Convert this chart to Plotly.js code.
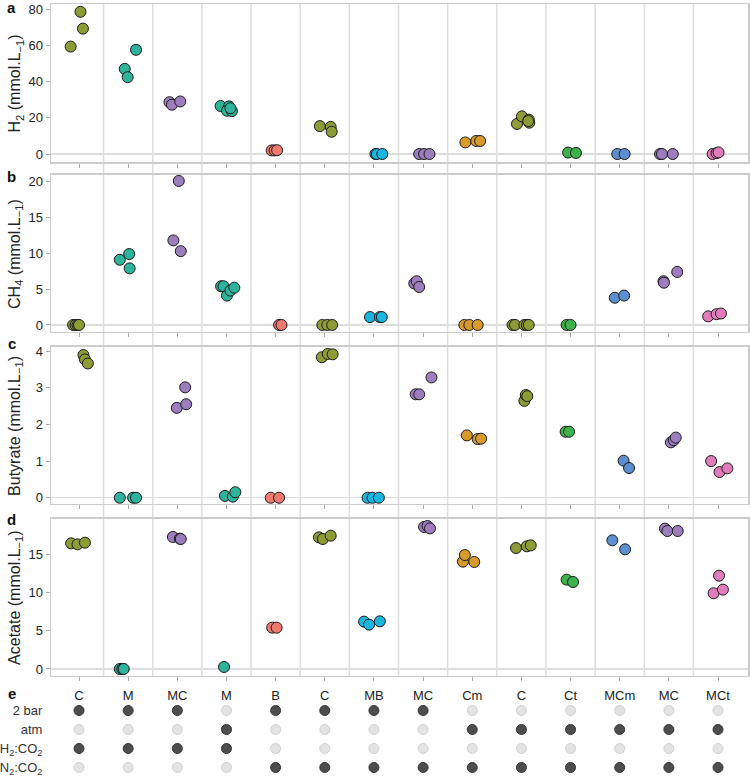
<!DOCTYPE html>
<html>
<head>
<meta charset="utf-8">
<script src="https://cdn.plot.ly/plotly-3.0.1.min.js"></script>
<style>
  body { margin: 0; background: #fff; }
  #plot { width: 750px; height: 777px; }
</style>
</head>
<body>
<div id="plot"></div>
<script>
// treatment categories and their colours
var categories = ['C', 'M', 'MC', 'M', 'B', 'C', 'MB', 'MC', 'Cm', 'C', 'Ct', 'MCm', 'MC', 'MCt'];
var catColors = ['#8d9c37', '#2db49a', '#9c7dbe', '#2db49a', '#ee7a70', '#8d9c37', '#1bb6e0',
                 '#9c7dbe', '#d89a2c', '#8d9c37', '#3db14c', '#5d8ed0', '#9c7dbe', '#e07cba'];

// a: H2 (replicates per category) and horizontal jitter of each replicate
var h2Values = [[59.3, 78.5, 69.2], [47.0, 42.4, 57.5], [28.6, 27.2, 29.0], [26.5, 26.3, 23.9, 23.7, 25.3],
                [2.0, 2.0, 2.1], [15.4, 15.0, 12.3], [0, 0, 0], [0, 0, 0], [6.4, 7.2, 7.2],
                [16.6, 20.8, 19.0, 17.3, 18.2], [0.8, 0.6], [0, 0], [0, 0, 0], [0, 0.5, 0.9]];
var h2Jitter = [[-0.17, 0.03, 0.08], [-0.07, -0.01, 0.16], [-0.16, -0.11, 0.06], [-0.12, 0.05, 0.01, 0.11, 0.08],
                [-0.08, -0.02, 0.03], [-0.1, 0.12, 0.14], [0.03, 0.06, 0.17], [-0.08, 0.02, 0.13], [-0.14, 0.08, 0.16],
                [-0.09, 0.01, 0.15, 0.16, 0.14], [-0.05, 0.11], [-0.05, 0.1], [-0.18, -0.14, 0.08], [-0.11, -0.03, 0.01]];

// b: CH4
var ch4Values = [[0, 0, 0, 0], [9.1, 9.9, 7.9], [11.8, 20.1, 10.3], [5.4, 5.4, 4.1, 4.8, 5.2],
                 [0, 0], [0, 0, 0], [1.1, 1.1, 1.1], [5.8, 6.1, 5.3], [0, 0, 0],
                 [0, 0, 0, 0, 0], [0, 0], [3.8, 4.1], [6.1, 5.9, 7.4], [1.2, 1.5, 1.6]];
var ch4Jitter = [[-0.12, -0.07, -0.03, 0.0], [-0.17, 0.02, 0.03], [-0.08, 0.03, 0.07], [-0.11, -0.06, 0.01, 0.08, 0.16],
                 [0.07, 0.12], [-0.05, 0.05, 0.15], [-0.08, 0.12, 0.16], [-0.18, -0.13, -0.08], [-0.16, -0.06, 0.11],
                 [-0.18, -0.13, 0.06, 0.11, 0.15], [-0.08, 0.0], [-0.1, 0.09], [-0.11, -0.1, 0.17], [-0.2, -0.03, 0.06]];

// c: Butyrate
var butValues = [[3.89, 3.77, 3.66], [0, 0, 0], [2.45, 3.01, 2.55], [0.05, 0.03, 0.15],
                 [0, 0], [3.83, 3.92, 3.91], [0, 0, 0], [2.82, 2.82, 3.28], [1.70, 1.60, 1.61],
                 [2.64, 2.80, 2.77], [1.8, 1.8], [1.01, 0.81], [1.51, 1.57, 1.64], [1.0, 0.70, 0.80]];
var butJitter = [[0.09, 0.12, 0.18], [-0.17, 0.1, 0.16], [-0.01, 0.16, 0.18], [-0.03, 0.13, 0.18],
                 [-0.1, 0.07], [-0.06, 0.06, 0.16], [-0.13, -0.03, 0.1], [-0.15, -0.08, 0.17], [-0.11, 0.11, 0.18],
                 [0.06, 0.09, 0.12], [-0.1, -0.03], [0.08, 0.19], [0.04, 0.1, 0.14], [-0.14, 0.03, 0.19]];

// d: Acetate
var acetValues = [[16.48, 16.35, 16.57], [0, 0, 0], [17.32, 17.1, 17.05], [0.26],
                  [5.42, 5.42], [17.27, 17.05, 17.49], [6.21, 5.82, 6.25], [18.63, 18.76, 18.45], [14.08, 14.95, 14.04],
                  [15.87, 16.09, 16.22], [11.72, 11.41], [16.88, 15.70], [18.41, 18.10, 18.10], [9.93, 12.24, 10.41]];
var acetJitter = [[-0.16, -0.03, 0.12], [-0.17, -0.12, -0.09], [-0.09, 0.05, 0.07], [-0.05],
                  [-0.07, 0.02], [-0.12, -0.04, 0.12], [-0.2, -0.1, 0.12], [0.02, 0.09, 0.14], [-0.19, -0.15, 0.04],
                  [-0.11, 0.11, 0.19], [-0.08, 0.05], [-0.15, 0.11], [-0.08, -0.03, 0.18], [-0.09, 0.02, 0.1]];

// e: incubation conditions (1 = yes)
var rowLabels = ['2 bar', 'atm', 'H<sub>2</sub>:CO<sub>2</sub>', 'N<sub>2</sub>:CO<sub>2</sub>'];
var bar2   = [1, 1, 1, 0, 1, 1, 1, 1, 0, 0, 0, 0, 0, 0];
var atm    = [0, 0, 0, 1, 0, 0, 0, 0, 1, 1, 1, 1, 1, 1];
var h2co2  = [1, 1, 1, 1, 0, 0, 0, 0, 0, 0, 0, 0, 0, 0];
var n2co2  = [0, 0, 0, 0, 1, 1, 1, 1, 1, 1, 1, 1, 1, 1];

var FONT = 'Liberation Sans, Arial, Helvetica, sans-serif';
var idx = categories.map(function (_, i) { return i; });

function pointsTrace(vals, jit, xa, ya) {
    var x = [], y = [], c = [];
    vals.forEach(function (group, i) {
        group.forEach(function (v, k) {
            x.push(i + jit[i][k]);
            y.push(v);
            c.push(catColors[i]);
        });
    });
    return {
        type: 'scatter', mode: 'markers', x: x, y: y, xaxis: xa, yaxis: ya,
        marker: { size: 11, color: c, line: { color: '#1a1a1a', width: 1 } },
        hoverinfo: 'y', showlegend: false, cliponaxis: false
    };
}

function condTrace(flags, row) {
    return {
        type: 'scatter', mode: 'markers', x: idx, y: idx.map(function () { return row; }),
        xaxis: 'x5', yaxis: 'y5', showlegend: false, hoverinfo: 'skip',
        marker: {
            size: 10,
            color: flags.map(function (f) { return f ? '#4d4d4d' : '#e3e3e3'; }),
            line: { width: 1, color: flags.map(function (f) { return f ? '#333333' : '#cfcfcf'; }) }
        }
    };
}

var data = [
    pointsTrace(h2Values, h2Jitter, 'x', 'y'),
    pointsTrace(ch4Values, ch4Jitter, 'x2', 'y2'),
    pointsTrace(butValues, butJitter, 'x3', 'y3'),
    pointsTrace(acetValues, acetJitter, 'x4', 'y4'),
    condTrace(bar2, 0), condTrace(atm, 1), condTrace(h2co2, 2), condTrace(n2co2, 3)
];

function xAxis(anchor, labels) {
    return {
        anchor: anchor, range: [-0.57, 13.61], showgrid: false, zeroline: false,
        showline: true, mirror: true, linecolor: '#cccccc', linewidth: 1.5,
        ticks: 'outside', ticklen: 4, tickcolor: '#aaaaaa', tickvals: idx,
        ticktext: categories, showticklabels: labels, ticklabelstandoff: 3,
        tickfont: { family: FONT, size: 13, color: '#222' }
    };
}

function yAxis(anchor, domain, range, ticks) {
    return {
        anchor: anchor, domain: domain, range: range, tickvals: ticks,
        showgrid: false, zeroline: true, zerolinecolor: '#dddddd', zerolinewidth: 1.5,
        showline: true, mirror: true, linecolor: '#cccccc', linewidth: 1.5,
        ticks: 'outside', ticklen: 4, tickcolor: '#aaaaaa',
        tickfont: { family: FONT, size: 13, color: '#222' }
    };
}

// vertical separators between categories
var shapes = [];
for (var i = 0; i < categories.length - 1; i++) {
    shapes.push({
        type: 'line', xref: 'x', yref: 'paper', x0: i + 0.5, x1: i + 0.5, y0: 0.1307, y1: 1,
        line: { color: '#dddddd', width: 1.5 }, layer: 'below'
    });
}

var letters = [['a', 0.9961], ['b', 0.7762], ['c', 0.5602], ['d', 0.3325], ['e', 0.1074]];
var annotations = letters.map(function (l) {
    return {
        text: '<b>' + l[0] + '</b>', xref: 'paper', yref: 'paper', x: -0.056, y: l[1],
        xanchor: 'center', yanchor: 'middle', showarrow: false,
        font: { family: FONT, size: 15, color: '#111' }
    };
});

// y-axis titles, one per panel, placed at a common x
var unit = ' (mmol.L<sub>\u22121</sub>)';
var yTitles = [['H<sub>2</sub>' + unit, 'y domain'], ['CH<sub>4</sub>' + unit, 'y2 domain'],
               ['Butyrate' + unit, 'y3 domain'], ['Acetate' + unit, 'y4 domain']];
yTitles.forEach(function (t) {
    annotations.push({
        text: t[0], xref: 'paper', yref: t[1], x: -0.051, y: 0.5,
        xanchor: 'center', yanchor: 'middle', textangle: -90, showarrow: false,
        font: { family: FONT, size: 16, color: '#222' }
    });
});

var layout = {
    width: 750, height: 777,
    margin: { l: 51, r: 2, t: 4, b: 0 },
    paper_bgcolor: '#ffffff', plot_bgcolor: '#ffffff',
    font: { family: FONT, color: '#222' },
    showlegend: false,
    xaxis: xAxis('y', false),
    xaxis2: xAxis('y2', false),
    xaxis3: xAxis('y3', false),
    xaxis4: xAxis('y4', true),
    xaxis5: { anchor: 'y5', range: [-0.57, 13.61], visible: false },
    yaxis: yAxis('x', [0.7956, 1.0], [-4.4, 82.8], [0, 20, 40, 60, 80]),
    yaxis2: yAxis('x2', [0.5757, 0.7788], [-0.98, 20.93], [0, 5, 10, 15, 20]),
    yaxis3: yAxis('x3', [0.3532, 0.5563], [-0.17, 4.11], [0, 1, 2, 3, 4]),
    yaxis4: yAxis('x4', [0.1307, 0.3338], [-0.92, 19.68], [0, 5, 10, 15]),
    yaxis5: {
        anchor: 'x5', domain: [0, 0.0983], range: [3.5, -0.5], tickvals: [0, 1, 2, 3],
        ticktext: rowLabels, showgrid: false, zeroline: false, showline: false,
        ticks: 'outside', ticklen: 5, tickcolor: 'rgba(0,0,0,0)',
        tickfont: { family: FONT, size: 13, color: '#333' }
    },
    shapes: shapes,
    annotations: annotations
};

Plotly.newPlot('plot', data, layout, { displayModeBar: false, staticPlot: true });
</script>
</body>
</html>
